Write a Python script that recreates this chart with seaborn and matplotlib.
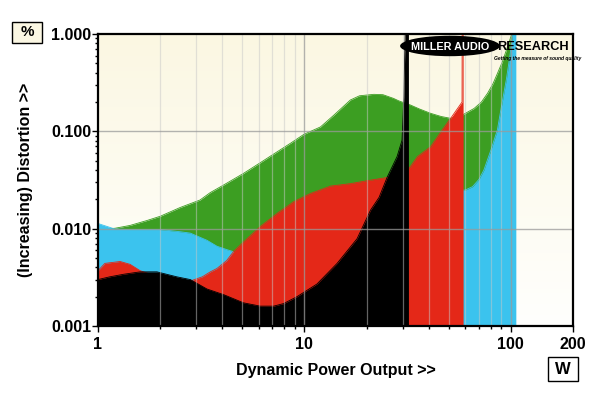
import numpy as np
import matplotlib
matplotlib.use("Agg")
import matplotlib.pyplot as plt
import seaborn as sns
from matplotlib.patches import Rectangle, Ellipse
from matplotlib.ticker import FixedLocator, NullFormatter

# --- data (power in W, distortion in %) ---
green_w = [1.0, 1.21, 1.43, 1.72, 2.0, 2.5, 3.12, 3.5, 4.06, 5.07, 6.11, 7.1, 8.55, 9.93,
           11.96, 13.9, 16.7, 18.5, 21.7, 24.0, 27.0, 28.6, 30.5, 32.7, 36.0, 40.9, 46.0,
           51.1, 58.2, 66.4, 72.0, 77.1, 82.0, 86.1, 91.0, 96.4, 101.0, 103.0]
green_v = [0.0098, 0.0101, 0.0108, 0.0121, 0.0134, 0.0165, 0.0197, 0.0235, 0.0281, 0.037,
           0.0476, 0.0585, 0.0753, 0.093, 0.111, 0.147, 0.21, 0.232, 0.240, 0.238, 0.218,
           0.206, 0.196, 0.186, 0.17, 0.153, 0.142, 0.136, 0.147, 0.172, 0.2, 0.246, 0.31,
           0.394, 0.52, 0.741, 1.0, 1.2]

cyan_left_w = [1.0, 1.21, 1.43, 2.0, 2.5, 2.8, 3.37, 3.77, 4.2, 4.53, 4.7]
cyan_left_v = [0.0113, 0.0099, 0.0098, 0.0098, 0.0093, 0.0090, 0.0076, 0.0066, 0.0061, 0.0058, 0.0052]
cyan_right_w = [57.0, 60.0, 65.2, 70.0, 74.0, 80.0, 86.0, 90.0, 95.0, 99.0, 102.0, 103.0, 105.7]
cyan_right_v = [0.0249, 0.0249, 0.027, 0.032, 0.040, 0.064, 0.103, 0.18, 0.337, 0.6, 1.0, 1.2, 1.2]

red_w = [1.0, 1.08, 1.28, 1.43, 1.6, 1.8, 2.0, 2.41, 2.8, 3.2, 3.5, 3.77, 4.2, 4.53, 5.07,
         6.11, 7.4, 8.87, 10.7, 13.4, 16.7, 20.1, 24.0, 27.0, 30.0, 32.5, 35.3, 40.9, 46.0,
         51.1, 58.0, 58.1, 58.7]
red_v = [0.0037, 0.0044, 0.0046, 0.0043, 0.0037, 0.0034, 0.0032, 0.0029, 0.0029, 0.0032,
         0.0036, 0.0039, 0.0047, 0.0058, 0.0073, 0.0105, 0.0144, 0.0189, 0.023, 0.0274,
         0.029, 0.0311, 0.033, 0.0345, 0.038, 0.043, 0.055, 0.0695, 0.1, 0.136, 0.20, 1.2, 1.2]

black_w = [1.0, 1.14, 1.33, 1.6, 1.93, 2.41, 2.8, 3.37, 4.06, 5.07, 6.11, 7.1, 7.93, 9.2,
           11.5, 14.4, 18.0, 20.9, 23.0, 25.2, 28.1, 29.7, 30.3, 30.8, 31.9]
black_v = [0.0030, 0.0032, 0.0034, 0.0036, 0.0036, 0.0032, 0.0030, 0.0024, 0.0021, 0.00173,
           0.0016, 0.0016, 0.0017, 0.0020, 0.0027, 0.0044, 0.0079, 0.0155, 0.021, 0.034,
           0.055, 0.081, 0.227, 1.2, 1.2]

x_ticks = [1, 10, 100, 200]
x_ticklabels = ["1", "10", "100", "200"]
y_ticks = [0.001, 0.01, 0.1, 1.0]
y_ticklabels = ["0.001", "0.010", "0.100", "1.000"]

sns.set_style("white")
plt.rcParams["font.family"] = ["Liberation Sans", "DejaVu Sans"]
plt.rcParams["font.weight"] = "bold"
plt.rcParams["text.color"] = "black"
plt.rcParams["axes.labelcolor"] = "black"
plt.rcParams["xtick.color"] = "black"
plt.rcParams["ytick.color"] = "black"

fig = plt.figure(figsize=(6, 3.93), dpi=100)
ax = fig.add_axes([98 / 600, 1 - 326 / 393, 475 / 600, 292 / 393])
ax.set_xscale("log")
ax.set_yscale("log")
ax.set_xlim(1, 200)
ax.set_ylim(0.001, 1)

# cream background that fades to white at the bottom
top = np.array([251, 247, 226]) / 255
bot = np.array([255, 255, 253]) / 255
t = np.linspace(0, 1, 256)[:, None]
grad = (top * (1 - t) + bot * t)[:, None, :]
ax.imshow(grad, extent=[0, 1, 0, 1], transform=ax.transAxes, aspect="auto", zorder=0)

layers = [
    (green_w, green_v, "#3c9e22"),
    (cyan_left_w, cyan_left_v, "#3bc3ee"),
    (cyan_right_w, cyan_right_v, "#3bc3ee"),
    (red_w, red_v, "#e42818"),
    (black_w, black_v, "#000000"),
]
for z, (w, v, c) in enumerate(layers):
    ax.fill_between(w, 0.001, v, color=c, lw=0, zorder=2 + z)
    sns.lineplot(x=w, y=v, color=c, lw=0.6, sort=False, estimator=None, ax=ax, zorder=2 + z)

# grid drawn over the fills
minor_x = [2, 3, 4, 5, 6, 7, 8, 9, 20, 30, 40, 50, 60, 70, 80, 90]
for xv in minor_x:
    ax.axvline(xv, color="#c8c8c8", lw=0.9, alpha=0.5, zorder=10)
for xv in [10, 100]:
    ax.axvline(xv, color="#9a9a9a", lw=1.0, alpha=0.75, zorder=10)
for yv in [0.01, 0.1]:
    ax.axhline(yv, color="#9a9a9a", lw=1.0, alpha=0.75, zorder=10)

ax.set_xticks(x_ticks)
ax.set_xticklabels(x_ticklabels)
ax.xaxis.set_minor_locator(FixedLocator(minor_x))
ax.xaxis.set_minor_formatter(NullFormatter())
ax.set_yticks(y_ticks)
ax.set_yticklabels(y_ticklabels)
minor_y = [m * d for d in [0.001, 0.01, 0.1] for m in range(2, 10)]
ax.yaxis.set_minor_locator(FixedLocator(minor_y))
ax.yaxis.set_minor_formatter(NullFormatter())
ax.tick_params(axis="x", which="major", direction="out", length=4, width=1,
               labelsize=11.5, pad=4, bottom=True)
ax.tick_params(axis="y", which="major", direction="out", length=4, width=1,
               labelsize=11.5, pad=1, left=True)
ax.tick_params(axis="both", which="minor", direction="out", length=2, width=1,
               bottom=True, left=True)
for lab in ax.get_xticklabels() + ax.get_yticklabels():
    lab.set_fontweight("bold")

for s in ax.spines.values():
    s.set_color("black")
    s.set_linewidth(1.6)
    s.set_zorder(20)

ax.set_xlabel("Dynamic Power Output >>", fontsize=11.5, fontweight="bold", labelpad=8)
ax.set_ylabel("(Increasing) Distortion >>", fontsize=11.5, fontweight="bold", labelpad=13)

# unit boxes
fig.add_artist(Rectangle((12 / 600, 1 - 43 / 393), 30 / 600, 21 / 393, transform=fig.transFigure,
                         facecolor="#fbf7e3", edgecolor="black", lw=1.0))
fig.text(27 / 600, 1 - 32.5 / 393, "%", ha="center", va="center", fontsize=11, fontweight="bold")
fig.add_artist(Rectangle((548 / 600, 1 - 381 / 393), 30 / 600, 24 / 393, transform=fig.transFigure,
                         facecolor="white", edgecolor="black", lw=1.0))
fig.text(563 / 600, 1 - 369 / 393, "W", ha="center", va="center", fontsize=12, fontweight="bold")

# logo
ax.add_patch(Ellipse((0.741, 0.959), 0.21, 0.07, transform=ax.transAxes, facecolor="black",
                     edgecolor="none", zorder=30, clip_on=False))
ax.text(0.741, 0.957, "MILLER AUDIO", transform=ax.transAxes, ha="center", va="center",
        color="white", fontsize=7.8, fontweight="bold", zorder=31)
ax.text(0.840, 0.957, "RESEARCH", transform=ax.transAxes, ha="left", va="center",
        color="black", fontsize=9.2, fontweight="bold", zorder=31)
ax.text(0.834, 0.915, "Getting the measure of sound quality", transform=ax.transAxes,
        ha="left", va="center", color="black", fontsize=3.6, fontweight="bold",
        style="italic", zorder=31)

fig.savefig("out.png", dpi=100)
